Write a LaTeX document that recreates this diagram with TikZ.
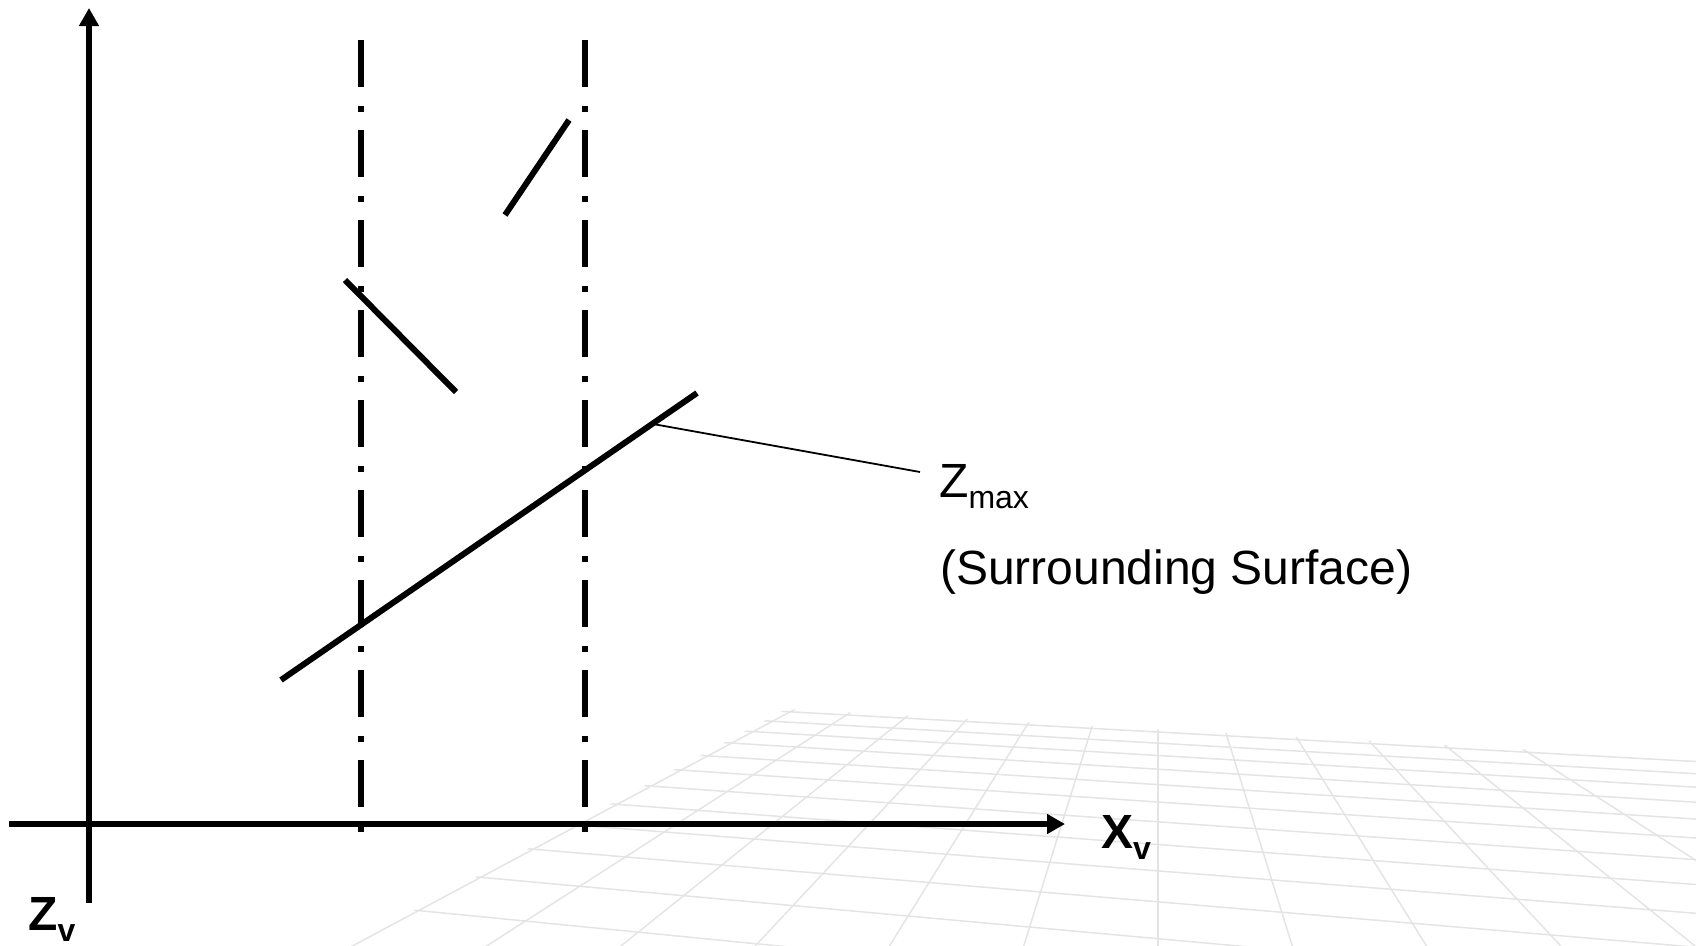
\documentclass[tikz,border=0pt]{standalone}
\usepackage{fontspec}
\setmainfont{Liberation Sans}
\usetikzlibrary{arrows.meta}
\definecolor{gridgray}{RGB}{228,228,228}
\newcommand{\lowsub}[1]{{\fontsize{32pt}{32pt}\selectfont\raisebox{-11pt}{#1}}}
\begin{document}
\begin{tikzpicture}[x=1pt,y=-1pt,
  gridline/.style={draw=gridgray,line width=1.5pt},
  axisline/.style={line width=6pt,-{Triangle[length=18pt,width=19pt]}},
  dashdotline/.style={line width=6pt,dash pattern=on 47pt off 19pt on 6pt off 18pt},
  seg/.style={line width=6pt},
  leader/.style={line width=1.8pt},
  lbl/.style={inner sep=0pt,anchor=base west,font=\fontsize{48pt}{56pt}\selectfont},
  axlbl/.style={inner sep=0pt,anchor=base west,font=\fontsize{48pt}{56pt}\selectfont\bfseries}]
\useasboundingbox (0,0) rectangle (1696,945);
% perspective floor grid
\begin{scope}
  \clip (786,709) -- (1700,759) -- (1700,950) -- (341,950) -- cycle;
  \foreach \k in {-6,...,5} {
    \draw[gridline] (1158,515) -- ({1158+151.1*\k},1000);
  }
  \foreach \j in {0,...,13} {
    \pgfmathsetmacro\yj{515+4448.5/(20.5-\j)}
    \pgfmathsetmacro\yl{415+(\yj-415)*0.85151}
    \pgfmathsetmacro\yr{415+(\yj-415)*1.09380}
    \draw[gridline] (300,\yl) -- (1700,\yr);
  }
\end{scope}
% axes
\coordinate (zbot) at (89,903);
\coordinate (ztip) at (89,8);
\coordinate (xleft) at (9,824);
\coordinate (xtip) at (1065,824);
\draw[axisline] (zbot) -- (ztip);
\draw[axisline] (xleft) -- (xtip);
% dash-dot verticals
\coordinate (d1top) at (361,40);
\coordinate (d1bot) at (361,833);
\coordinate (d2top) at (585,40);
\coordinate (d2bot) at (585,833);
\draw[dashdotline] (d1top) -- (d1bot);
\draw[dashdotline] (d2top) -- (d2bot);
% segments
\coordinate (a1) at (505,215);
\coordinate (a2) at (569,120);
\coordinate (b1) at (345,280);
\coordinate (b2) at (456,392);
\coordinate (c1) at (281,680);
\coordinate (c2) at (697,393);
\draw[seg] (a1) -- (a2);
\draw[seg] (b1) -- (b2);
\draw[seg] (c1) -- (c2);
% labels
\node[lbl] (zmax) at (939,497) {Z\lowsub{max}};
\node[lbl] (surf) at (940,584) {(Surrounding Surface)};
\coordinate (lstart) at (653,424);
\coordinate (lend) at (920,472);
\draw[leader] (lstart) -- (lend);
\node[axlbl] (xlab) at (1101,848) {X\lowsub{v}};
\node[axlbl] (zlab) at (28,930) {Z\lowsub{v}};
\end{tikzpicture}
\end{document}
